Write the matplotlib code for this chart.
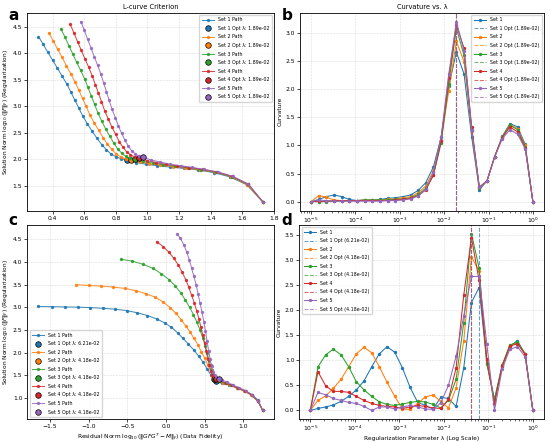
import matplotlib
matplotlib.use('Agg')
import matplotlib.pyplot as plt

# regularization grid (30 values, 1e-5 .. 1)
lambdas = [1.000e-05, 1.487e-05, 2.212e-05, 3.290e-05, 4.894e-05, 7.279e-05,
           1.083e-04, 1.610e-04, 2.395e-04, 3.562e-04, 5.298e-04, 7.880e-04,
           1.172e-03, 1.743e-03, 2.593e-03, 3.857e-03, 5.736e-03, 8.532e-03,
           1.269e-02, 1.887e-02, 2.807e-02, 4.175e-02, 6.210e-02, 9.237e-02,
           1.374e-01, 2.043e-01, 3.039e-01, 4.520e-01, 6.723e-01, 1.000e+00]

# panel a: L-curves (residual norm, solution norm)
a_res = [
    [0.31, 0.34, 0.37, 0.40, 0.43, 0.46, 0.49, 0.515, 0.54, 0.565, 0.59, 0.62, 0.65, 0.68, 0.71,
     0.74, 0.77, 0.80, 0.835, 0.87, 0.93, 0.99, 1.06, 1.14, 1.23, 1.32, 1.42, 1.52, 1.63, 1.73],
    [0.375, 0.403, 0.431, 0.459, 0.486, 0.514, 0.542, 0.565, 0.589, 0.612, 0.635, 0.663, 0.691, 0.719, 0.746,
     0.774, 0.802, 0.830, 0.863, 0.895, 0.95, 1.01, 1.08, 1.16, 1.24, 1.33, 1.43, 1.53, 1.63, 1.73],
    [0.452, 0.477, 0.502, 0.527, 0.552, 0.577, 0.602, 0.623, 0.644, 0.665, 0.686, 0.711, 0.736, 0.761, 0.786,
     0.811, 0.836, 0.862, 0.891, 0.92, 0.975, 1.035, 1.10, 1.175, 1.255, 1.34, 1.435, 1.535, 1.635, 1.73],
    [0.511, 0.534, 0.558, 0.581, 0.604, 0.628, 0.651, 0.670, 0.690, 0.709, 0.729, 0.752, 0.775, 0.799, 0.822,
     0.845, 0.868, 0.892, 0.919, 0.946, 1.0, 1.055, 1.12, 1.19, 1.265, 1.35, 1.44, 1.535, 1.64, 1.73],
    [0.579, 0.600, 0.621, 0.642, 0.663, 0.684, 0.705, 0.722, 0.740, 0.757, 0.775, 0.796, 0.816, 0.837, 0.858,
     0.879, 0.900, 0.921, 0.946, 0.97, 1.02, 1.08, 1.14, 1.21, 1.28, 1.36, 1.45, 1.54, 1.64, 1.73],
]
a_sol = [
    [4.32, 4.17, 4.02, 3.87, 3.72, 3.57, 3.42, 3.27, 3.12, 2.97, 2.82, 2.67, 2.53, 2.40, 2.28,
     2.18, 2.10, 2.05, 2.01, 1.99, 1.94, 1.91, 1.88, 1.855, 1.83, 1.80, 1.75, 1.67, 1.52, 1.20],
    [4.39, 4.24, 4.08, 3.93, 3.77, 3.62, 3.46, 3.31, 3.15, 3.00, 2.84, 2.69, 2.55, 2.41, 2.29,
     2.19, 2.10, 2.05, 2.01, 1.99, 1.95, 1.92, 1.89, 1.86, 1.835, 1.80, 1.755, 1.675, 1.52, 1.20],
    [4.47, 4.31, 4.15, 3.99, 3.83, 3.68, 3.52, 3.36, 3.20, 3.04, 2.88, 2.72, 2.57, 2.44, 2.31,
     2.20, 2.12, 2.06, 2.02, 2.00, 1.96, 1.93, 1.90, 1.87, 1.84, 1.805, 1.755, 1.675, 1.525, 1.20],
    [4.55, 4.39, 4.22, 4.06, 3.90, 3.74, 3.57, 3.41, 3.25, 3.09, 2.92, 2.76, 2.61, 2.47, 2.33,
     2.23, 2.14, 2.09, 2.04, 2.02, 1.975, 1.94, 1.905, 1.875, 1.845, 1.81, 1.76, 1.68, 1.53, 1.20],
    [4.60, 4.44, 4.27, 4.11, 3.94, 3.78, 3.61, 3.45, 3.28, 3.12, 2.95, 2.79, 2.63, 2.49, 2.36,
     2.25, 2.16, 2.11, 2.06, 2.04, 1.99, 1.95, 1.91, 1.88, 1.85, 1.81, 1.76, 1.68, 1.53, 1.20],
]
a_opt = [19, 19, 19, 19, 19]

# panel b: curvature for the sets of panel a
b_curv = [
    [0, 0.04, 0.09, 0.12, 0.09, 0.04, 0.02, 0.03, 0.03, 0.04, 0.06, 0.07, 0.09, 0.12, 0.20,
     0.34, 0.62, 1.15, 2.05, 2.66, 2.27, 1.15, 0.21, 0.37, 0.80, 1.16, 1.39, 1.33, 1.02, 0],
    [0, 0.11, 0.08, 0.03, 0.02, 0.02, 0.02, 0.03, 0.03, 0.03, 0.04, 0.05, 0.07, 0.09, 0.16,
     0.28, 0.55, 1.10, 1.97, 2.85, 2.49, 1.25, 0.24, 0.37, 0.80, 1.15, 1.37, 1.30, 1.00, 0],
    [0, 0.0, 0.0, 0.01, 0.01, 0.02, 0.02, 0.03, 0.03, 0.03, 0.03, 0.04, 0.05, 0.07, 0.13,
     0.24, 0.48, 1.04, 2.10, 3.08, 2.60, 1.27, 0.25, 0.37, 0.80, 1.15, 1.36, 1.28, 0.98, 0],
    [0, 0.01, 0.01, 0.02, 0.02, 0.02, 0.02, 0.02, 0.02, 0.02, 0.02, 0.03, 0.04, 0.06, 0.11,
     0.21, 0.47, 1.08, 2.20, 3.14, 2.73, 1.33, 0.26, 0.37, 0.80, 1.14, 1.33, 1.24, 0.96, 0],
    [0, 0.03, 0.02, 0.01, 0.01, 0.01, 0.01, 0.01, 0.01, 0.01, 0.02, 0.02, 0.03, 0.05, 0.10,
     0.22, 0.52, 1.15, 2.27, 3.20, 2.68, 1.28, 0.26, 0.37, 0.79, 1.12, 1.28, 1.20, 0.94, 0],
]

# panel c: L-curves, second experiment
c_res = [
    [-1.65, -1.48, -1.31, -1.14, -0.98, -0.82, -0.66, -0.51, -0.37, -0.24, -0.12, -0.02, 0.07, 0.15, 0.22,
     0.29, 0.36, 0.42, 0.48, 0.53, 0.575, 0.61, 0.64, 0.72, 0.82, 0.92, 1.02, 1.11, 1.19, 1.25],
    [-1.165, -1.0, -0.84, -0.685, -0.535, -0.39, -0.26, -0.14, -0.037, 0.053, 0.13, 0.195, 0.254, 0.311, 0.362,
     0.414, 0.456, 0.499, 0.537, 0.576, 0.60, 0.615, 0.66, 0.74, 0.83, 0.92, 1.01, 1.10, 1.19, 1.25],
    [-0.586, -0.44, -0.30, -0.17, -0.06, 0.04, 0.12, 0.19, 0.25, 0.305, 0.355, 0.40, 0.44, 0.475, 0.505,
     0.53, 0.555, 0.575, 0.595, 0.61, 0.625, 0.635, 0.68, 0.76, 0.845, 0.93, 1.02, 1.11, 1.19, 1.25],
    [-0.123, -0.04, 0.035, 0.10, 0.16, 0.21, 0.255, 0.295, 0.33, 0.365, 0.395, 0.425, 0.45, 0.475, 0.50,
     0.52, 0.54, 0.56, 0.58, 0.60, 0.62, 0.645, 0.69, 0.77, 0.85, 0.935, 1.02, 1.11, 1.19, 1.25],
    [0.143, 0.186, 0.229, 0.267, 0.30, 0.33, 0.36, 0.39, 0.415, 0.44, 0.465, 0.49, 0.51, 0.53, 0.55,
     0.57, 0.59, 0.61, 0.63, 0.65, 0.665, 0.68, 0.72, 0.79, 0.865, 0.945, 1.03, 1.115, 1.195, 1.25],
]
c_sol = [
    [3.02, 3.015, 3.01, 3.005, 2.995, 2.98, 2.96, 2.93, 2.88, 2.82, 2.745, 2.66, 2.56, 2.44, 2.315,
     2.19, 2.06, 1.93, 1.79, 1.65, 1.52, 1.43, 1.37, 1.33, 1.29, 1.23, 1.16, 1.08, 0.95, 0.73],
    [3.50, 3.483, 3.47, 3.447, 3.418, 3.368, 3.30, 3.225, 3.117, 2.995, 2.866, 2.73, 2.594, 2.457, 2.315,
     2.17, 2.027, 1.885, 1.74, 1.597, 1.49, 1.42, 1.38, 1.33, 1.28, 1.22, 1.155, 1.07, 0.93, 0.73],
    [4.06, 4.02, 3.95, 3.86, 3.74, 3.61, 3.47, 3.32, 3.16, 3.00, 2.84, 2.67, 2.50, 2.33, 2.16,
     2.00, 1.85, 1.72, 1.61, 1.52, 1.46, 1.42, 1.385, 1.335, 1.28, 1.22, 1.155, 1.07, 0.93, 0.73],
    [4.45, 4.34, 4.22, 4.08, 3.93, 3.77, 3.61, 3.44, 3.27, 3.10, 2.93, 2.75, 2.57, 2.39, 2.21,
     2.04, 1.87, 1.72, 1.60, 1.51, 1.46, 1.43, 1.39, 1.34, 1.285, 1.225, 1.16, 1.07, 0.93, 0.73],
    [4.62, 4.52, 4.38, 4.22, 4.05, 3.87, 3.68, 3.49, 3.29, 3.09, 2.89, 2.68, 2.47, 2.26, 2.05,
     1.86, 1.70, 1.58, 1.51, 1.47, 1.445, 1.43, 1.40, 1.35, 1.29, 1.23, 1.165, 1.075, 0.935, 0.73],
]
c_opt = [22, 21, 21, 21, 21]

# panel d: curvature for the sets of panel c
d_curv = [
    [0, 0.04, 0.07, 0.11, 0.18, 0.28, 0.41, 0.59, 0.87, 1.13, 1.27, 1.16, 0.85, 0.46, 0.16,
     0.10, 0.03, 0.26, 0.24, 0.08, 0.85, 2.15, 2.45, 0.95, 0.20, 0.88, 1.28, 1.39, 1.12, 0],
    [0, 0.20, 0.29, 0.44, 0.62, 0.87, 1.13, 1.26, 1.15, 0.87, 0.56, 0.28, 0.03, 0.02, 0.14,
     0.27, 0.31, 0.18, 0.05, 0.45, 1.39, 3.06, 2.78, 1.00, 0.12, 0.90, 1.30, 1.35, 1.12, 0],
    [0, 0.87, 1.11, 1.22, 1.11, 0.87, 0.57, 0.41, 0.28, 0.17, 0.12, 0.10, 0.13, 0.16, 0.18,
     0.17, 0.12, 0.05, 0.20, 0.62, 1.75, 3.52, 2.84, 0.93, 0.23, 0.90, 1.30, 1.36, 1.13, 0],
    [0, 0.77, 0.49, 0.38, 0.38, 0.36, 0.28, 0.20, 0.14, 0.10, 0.08, 0.07, 0.04, 0.07, 0.10,
     0.08, 0.05, 0.04, 0.22, 0.85, 2.30, 3.44, 2.59, 1.02, 0.15, 0.88, 1.28, 1.33, 1.12, 0],
    [0, 0.36, 0.31, 0.24, 0.20, 0.16, 0.14, 0.08, 0.00, 0.07, 0.07, 0.03, 0.07, 0.10, 0.07,
     0.03, 0.02, 0.15, 0.50, 1.08, 1.89, 2.67, 2.67, 1.33, 0.00, 0.82, 1.22, 1.27, 1.07, 0],
]

colors = ['#1f77b4', '#ff7f0e', '#2ca02c', '#d62728', '#9467bd']

FS_TICK = 4.3
FS_LAB = 4.2
FS_LEG = 3.4

fig = plt.figure(figsize=(5.5, 4.42), dpi=100)
ax_a = fig.add_axes([0.0496, 0.5233, 0.4484, 0.448])
ax_b = fig.add_axes([0.5455, 0.5233, 0.4435, 0.448])
ax_c = fig.add_axes([0.0496, 0.0514, 0.4484, 0.4396])
ax_d = fig.add_axes([0.5440, 0.0514, 0.4450, 0.4396])


def style(ax):
    ax.grid(True, linestyle='--', linewidth=0.4, alpha=0.45)
    ax.tick_params(labelsize=FS_TICK, length=2, width=0.5, pad=1.5)
    ax.tick_params(which='minor', length=1.2, width=0.4)
    for s in ax.spines.values():
        s.set_linewidth(0.6)


def lcurve(ax, xs, ys, opts):
    for i in range(5):
        ax.plot(xs[i], ys[i], marker='o', ms=1.4, lw=0.75, color=colors[i], alpha=0.85,
                label=f'Set {i+1} Path')
        j = opts[i]
        ax.plot(xs[i][j], ys[i][j], 'o', ms=4, color=colors[i], mec='black', mew=0.5,
                label=f'Set {i+1} Opt λ: {lambdas[j]:.2e}')
    ax.set_ylabel(r'Solution Norm $\log_{10}(\|F\|_F)$ (Regularization)', fontsize=FS_LAB, labelpad=2)
    style(ax)


def curvature(ax, curv, opts):
    for i in range(5):
        ax.semilogx(lambdas, curv[i], marker='o', ms=1.4, lw=0.75, color=colors[i],
                    label=f'Set {i+1}')
        lam = lambdas[opts[i]]
        ax.axvline(lam, color=colors[i], ls='--', lw=0.75, alpha=0.7,
                   label=f'Set {i+1} Opt ({lam:.2e})')
    ax.set_ylabel('Curvature', fontsize=FS_LAB, labelpad=2)
    style(ax)


leg_kw = dict(fontsize=FS_LEG, labelspacing=0.75, handlelength=2.6, borderpad=0.5,
              handletextpad=0.8, framealpha=0.8)

lcurve(ax_a, a_res, a_sol, a_opt)
ax_a.set_title('L-curve Criterion', fontsize=4.8, pad=2.5)
ax_a.legend(loc='upper right', **leg_kw)

curvature(ax_b, b_curv, a_opt)
ax_b.set_title('Curvature vs. λ', fontsize=4.8, pad=2.5)
ax_b.legend(loc='upper right', **leg_kw)

lcurve(ax_c, c_res, c_sol, c_opt)
ax_c.set_xlabel(r'Residual Norm $\log_{10}(\|GFG^T - M\|_F)$ (Data Fidelity)', fontsize=FS_LAB, labelpad=2)
ax_c.legend(loc='lower left', **leg_kw)

curvature(ax_d, d_curv, c_opt)
ax_d.set_xlabel('Regularization Parameter λ (Log Scale)', fontsize=FS_LAB, labelpad=2)
ax_d.legend(loc='upper left', **leg_kw)

for lab, x, y in [('a', 0.016, 0.955), ('b', 0.512, 0.955), ('c', 0.016, 0.490), ('d', 0.512, 0.490)]:
    fig.text(x, y, lab, fontsize=11, fontweight='bold', ha='left', va='baseline')

fig.savefig('out.png', dpi=100)
